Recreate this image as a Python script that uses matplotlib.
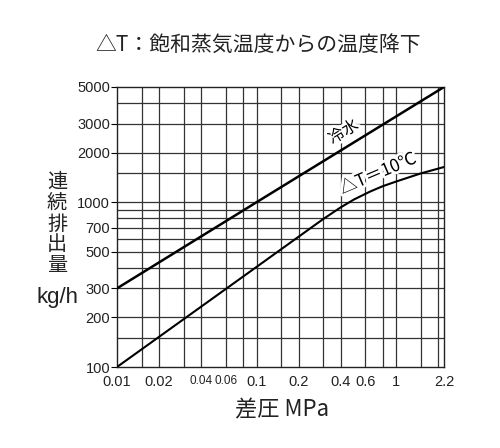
import matplotlib
matplotlib.use("Agg")
import matplotlib.pyplot as plt
import matplotlib.patheffects as pe
from matplotlib.ticker import FixedLocator, NullFormatter

# data (log-log)
cold_p = [0.01, 0.1, 2.2]            # 差圧 MPa
cold_q = [300, 1000, 5000]           # 冷水 kg/h

dt_p = [0.01, 0.1, 0.3, 0.4, 0.5, 0.65, 0.8, 1.0, 1.5, 2.2]
dt_q = [100, 405, 790, 930, 1040, 1160, 1250, 1335, 1495, 1635]   # ΔT=10℃

xticks = [0.01, 0.02, 0.04, 0.06, 0.1, 0.2, 0.4, 0.6, 1, 2.2]
xtick_labels = ["0.01", "0.02", "0.04", "0.06", "0.1", "0.2", "0.4", "0.6", "1", "2.2"]
xgrid = [0.015, 0.02, 0.03, 0.04, 0.06, 0.08, 0.1, 0.15, 0.2, 0.3, 0.4, 0.6, 0.8, 1, 1.5, 2]

yticks = [100, 200, 300, 500, 700, 1000, 2000, 3000, 5000]
ygrid = [150, 200, 300, 400, 500, 600, 700, 800, 900, 1000, 1500, 2000, 3000, 4000]

jp = ["Noto Sans CJK JP", "DejaVu Sans"]
num = ["Liberation Sans", "DejaVu Sans"]

W, H = 500, 448
fig = plt.figure(figsize=(W / 100, H / 100), dpi=100)
ax = fig.add_axes([117 / W, 1 - 367 / H, (444 - 117) / W, (367 - 87) / H])
ax.set_xscale("log")
ax.set_yscale("log")
ax.set_xlim(0.01, 2.2)
ax.set_ylim(100, 5000)

# grid lines
for g in xgrid:
    ax.axvline(g, color="#333333", lw=0.9, zorder=1)
for g in ygrid:
    ax.axhline(g, color="#333333", lw=0.9, zorder=1)

ax.plot(cold_p, cold_q, color="black", lw=1.8, zorder=3)
ax.plot(dt_p, dt_q, color="black", lw=1.5, zorder=3)

# ticks
ax.xaxis.set_major_locator(FixedLocator(xticks))
ax.set_xticklabels(xtick_labels, family=num, fontsize=10.5, color="#222")
ax.xaxis.set_minor_formatter(NullFormatter())
ax.tick_params(axis="x", which="both", length=0, pad=6)
for lab in ax.get_xticklabels():
    if lab.get_text() in ("0.04", "0.06"):
        lab.set_fontsize(8.5)
ax.yaxis.set_major_locator(FixedLocator(yticks))
ax.set_yticklabels([str(v) for v in yticks], family=num, fontsize=10.5, color="#222")
ax.yaxis.set_minor_formatter(NullFormatter())
ax.tick_params(axis="y", which="major", length=4, width=0.8, direction="out", pad=1)
ax.tick_params(axis="y", which="minor", length=0)
for s in ax.spines.values():
    s.set_linewidth(1.0)
    s.set_color("#222")

# curve labels, white halo hides the grid behind the glyphs
halo = [pe.withStroke(linewidth=4, foreground="white")]
ax.text(0.42, 2660, "冷水", family=jp, fontsize=11.5, rotation=32,
        ha="center", va="center", path_effects=halo, zorder=4)
ax.text(0.74, 1490, "△T＝10℃", family=jp, fontsize=12.5, rotation=23,
        ha="center", va="center", path_effects=halo, zorder=4)

# titles and axis labels
fig.text(258 / W, 1 - 45 / H, "△T：飽和蒸気温度からの温度降下", family=jp,
         fontsize=15, ha="center", va="center", color="#222")
fig.text(282 / W, 1 - 410 / H, "差圧 MPa", family=jp, fontsize=16,
         ha="center", va="center", color="#222")
fig.text(57 / W, 1 - 224 / H, "連\n続\n排\n出\n量", family=jp, fontsize=14.5,
         ha="center", va="center", linespacing=0.98, color="#222")
fig.text(58 / W, 1 - 297 / H, "kg/h", family=num, fontsize=16,
         ha="center", va="center", color="#222")

fig.savefig("out.png", dpi=100)
